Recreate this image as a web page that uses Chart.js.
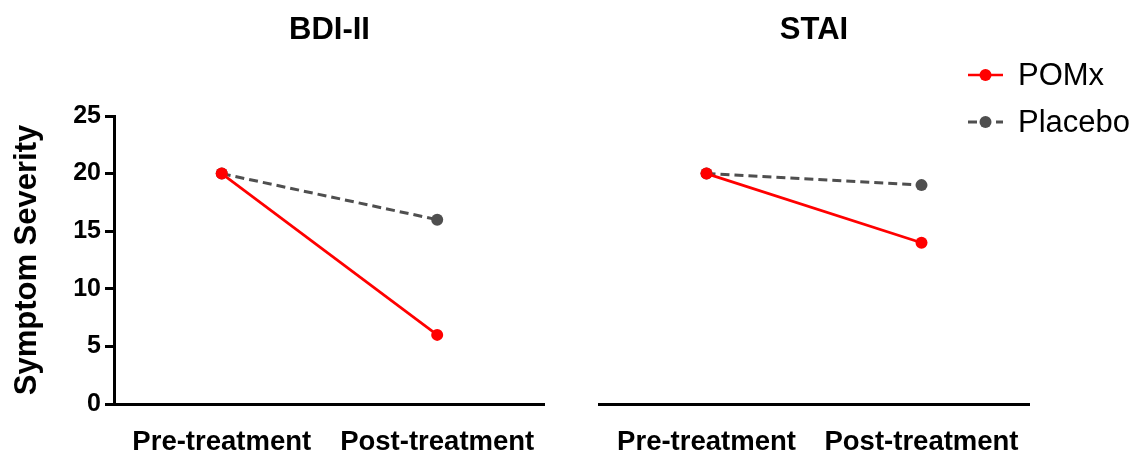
<!DOCTYPE html>
<html><head><meta charset="utf-8">
<script src="https://cdn.jsdelivr.net/npm/chart.js@4"></script>
<style>
html,body{margin:0;padding:0;background:#fff;width:1141px;height:455px;overflow:hidden;position:relative}
canvas{position:absolute;top:0}
#c1{left:0}
#c2{left:560px}
</style></head><body>
<canvas id="c1" width="560" height="455"></canvas>
<canvas id="c2" width="581" height="455"></canvas>
<script>
// ---- data ----
const timepoints = ['Pre-treatment', 'Post-treatment'];
const seriesNames = ['POMx', 'Placebo'];
const panelTitles = ['BDI-II', 'STAI'];
const bdiPOMx = [20, 6];
const bdiPlacebo = [20, 16];
const staiPOMx = [20, 14];
const staiPlacebo = [20, 19];
const yMin = 0, yMax = 25, yStep = 5;
const yAxisTitle = 'Symptom Severity';

const FONT = "'Liberation Sans', Arial, Helvetica, sans-serif";
const RED = '#FF0000';
const GREY = '#4F4F4F';

function makeDatasets(pomx, placebo) {
  return [
    { label: seriesNames[0], data: pomx, borderColor: RED, backgroundColor: RED,
      pointBackgroundColor: RED, pointBorderColor: RED, pointRadius: 6, pointBorderWidth: 0,
      borderWidth: 2.7, tension: 0, fill: false },
    { label: seriesNames[1], data: placebo, borderColor: GREY, backgroundColor: GREY,
      pointBackgroundColor: GREY, pointBorderColor: GREY, pointRadius: 6, pointBorderWidth: 0,
      borderWidth: 3, borderDash: [9, 5], tension: 0, fill: false }
  ];
}

const manualLegend = {
  id: 'manualLegend',
  afterDraw(chart, args, opts) {
    if (!opts || !opts.show) return;
    const ctx = chart.ctx;
    chart.data.datasets.forEach((ds, i) => {
      const y = opts.y + i * opts.rowGap;
      ctx.save();
      ctx.strokeStyle = ds.borderColor;
      ctx.lineWidth = ds.borderWidth;
      ctx.setLineDash(ds.borderDash || []);
      ctx.beginPath();
      ctx.moveTo(opts.x, y);
      ctx.lineTo(opts.x + opts.lineLen, y);
      ctx.stroke();
      ctx.setLineDash([]);
      ctx.fillStyle = ds.pointBackgroundColor;
      ctx.beginPath();
      ctx.arc(opts.x + opts.lineLen / 2, y, ds.pointRadius, 0, Math.PI * 2);
      ctx.fill();
      ctx.fillStyle = '#000';
      ctx.font = opts.font;
      ctx.textBaseline = 'middle';
      ctx.textAlign = 'left';
      ctx.fillText(ds.label, opts.x + opts.lineLen + opts.gap, y + 1);
      ctx.restore();
    });
  }
};

function makeChart(id, title, pomx, placebo, showY, yWidth, padding, legendOpts) {
  return new Chart(document.getElementById(id), {
    type: 'line',
    data: { labels: timepoints, datasets: makeDatasets(pomx, placebo) },
    plugins: [manualLegend],
    options: {
      responsive: false,
      animation: false,
      events: [],
      layout: { padding: padding },
      plugins: {
        legend: { display: false },
        tooltip: { enabled: false },
        title: {
          display: true, text: title, fullSize: false, color: '#000',
          font: { family: FONT, size: 31, weight: 'bold' },
          padding: { top: 11.4, bottom: 67.4 }
        },
        manualLegend: legendOpts
      },
      scales: {
        x: {
          type: 'category', offset: true,
          grid: { display: false, drawTicks: false },
          border: { display: true, color: '#000', width: 3 },
          ticks: { color: '#000', font: { family: FONT, size: 27.5, weight: 'bold' },
                   padding: 22, maxRotation: 0, autoSkip: false },
          afterFit: s => { s.height = 51; }
        },
        y: {
          display: showY, min: yMin, max: yMax,
          ticks: { stepSize: yStep, color: '#000', padding: 4,
                   font: { family: FONT, size: 25, weight: 'bold' } },
          grid: { display: true, drawOnChartArea: false, drawTicks: true, tickLength: 9,
                  color: '#000', lineWidth: 3 },
          border: { display: true, color: '#000', width: 3 },
          title: { display: true, text: yAxisTitle, color: '#000',
                   font: { family: FONT, size: 31, weight: 'bold' }, padding: { top: 9, bottom: 0 } },
          afterFit: s => { s.width = yWidth; }
        }
      }
    }
  });
}

makeChart('c1', panelTitles[0], bdiPOMx, bdiPlacebo, true, 114,
  { left: 0, right: 15, top: 0, bottom: 0 }, { show: false });
makeChart('c2', panelTitles[1], staiPOMx, staiPlacebo, false, 0,
  { left: 39, right: 112, top: 0, bottom: 0 },
  { show: true, x: 408, y: 75, rowGap: 47, lineLen: 35, gap: 15,
    font: "31px 'Liberation Sans', Arial, sans-serif" });
</script>
</body></html>
